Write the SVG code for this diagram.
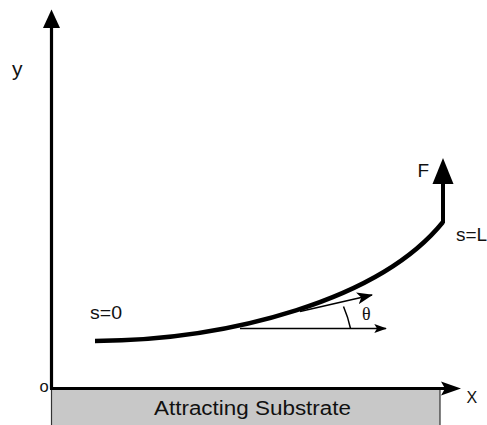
<svg xmlns="http://www.w3.org/2000/svg" width="487" height="425" viewBox="0 0 487 425">
<style>
.lbl{font-family:"Liberation Sans",Arial,sans-serif;fill:#111}
.axis{stroke:#000;stroke-width:3.2;fill:none}
.thin{stroke:#000;stroke-width:1.5;fill:none}
.head{fill:#000;stroke:none}
</style>
<defs>
<marker id="ah" viewBox="0 0 14 10" refX="13" refY="5" markerWidth="14" markerHeight="9" markerUnits="userSpaceOnUse" orient="auto">
<path d="M0,0 L14,5 L0,10 L3,5 Z" fill="#000"/>
</marker>
<marker id="ahb" viewBox="0 0 16 12" refX="15" refY="6" markerWidth="16" markerHeight="12" markerUnits="userSpaceOnUse" orient="auto">
<path d="M0,0 L16,6 L0,12 L4,6 Z" fill="#000"/>
</marker>
</defs>
<rect width="487" height="425" fill="#fff"/>
<g id="substrate">
<rect x="51.5" y="389" width="388.5" height="40" fill="#c8c8c8" stroke="#333" stroke-width="1.2"/>
<text class="lbl" x="154" y="415" font-size="20" textLength="197" lengthAdjust="spacingAndGlyphs">Attracting Substrate</text>
</g>
<g id="connectors">
<line class="axis" x1="51.5" y1="389" x2="51.5" y2="26"/>
<path class="head" d="M51.5,9.5 L60,28 L43,28 Z"/>
<line class="axis" x1="50" y1="388.5" x2="446" y2="388.5"/>
<path class="head" d="M461,388.5 L441,381.5 L445,388.5 L441,395.5 Z"/>
<line class="thin" x1="240" y1="328.5" x2="386" y2="328.5" marker-end="url(#ah)"/>
<line class="thin" x1="300" y1="311.5" x2="372" y2="295" stroke-width="2.4" marker-end="url(#ahb)"/>
<path class="thin" d="M343.5,306.5 A120,120 0 0 1 350.5,328.5" stroke-width="2.3"/>
</g>
<g id="filament">
<path d="M95,341 C230,340 380,300 443,222" fill="none" stroke="#000" stroke-width="4.5"/>
<line x1="443" y1="223" x2="443" y2="182" stroke="#000" stroke-width="4"/>
<path class="head" d="M443,158 L453.5,184 L432.5,184 Z"/>
</g>
<g id="labels">
<text class="lbl" x="12" y="76" font-size="21">y</text>
<text class="lbl" x="39.5" y="391.5" font-size="16.5">o</text>
<text class="lbl" x="466.5" y="402.5" font-size="16">X</text>
<text class="lbl" x="417.5" y="177" font-size="19">F</text>
<text class="lbl" x="456" y="240.5" font-size="19">s=L</text>
<text class="lbl" x="90" y="319" font-size="18.5" textLength="32" lengthAdjust="spacingAndGlyphs">s=0</text>
<text x="362" y="320" font-size="18" font-family="'Liberation Serif','DejaVu Serif',serif" fill="#111">θ</text>
</g>
</svg>
